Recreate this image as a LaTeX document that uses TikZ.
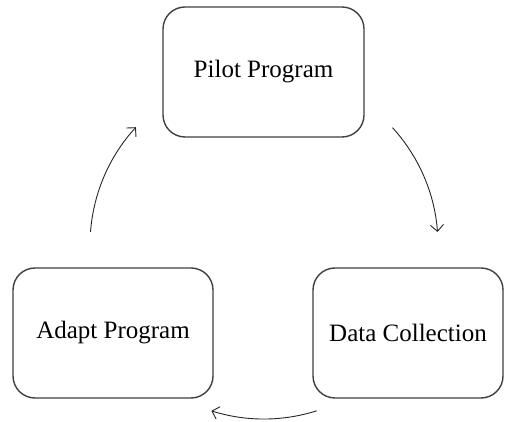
\documentclass[tikz,border=0pt]{standalone}
\usepackage{fontspec}
\setmainfont{Liberation Serif}
\usetikzlibrary{arrows.meta}

\begin{document}
\begin{tikzpicture}[x=0.5pt,y=0.5pt,
  stage/.style={draw=black!75, line width=0.7pt, rounded corners=11pt,
    fill=white, minimum height=65pt, inner sep=0pt,
    font=\fontsize{12.5pt}{15pt}\selectfont},
  flow/.style={draw=black!85, line width=0.45pt,
    -{Straight Barb[length=3.2pt,width=6.5pt]}}]
  % canvas
  \path[fill=white] (0,0) rectangle (506,421);
  \useasboundingbox (0,0) rectangle (506,421);

  % the three stages of the cycle
  \node[stage, minimum width=100.5pt] (pilot) at (263.5,349) {Pilot Program};
  \node[stage, minimum width=95pt]    (data)  at (408,88)    {Data Collection};
  \node[stage, minimum width=100pt]   (adapt) at (113,88)    {Adapt Program};

  % arcs on a common circle around the middle
  \coordinate (mid) at (264,176);
  \path (mid) ++(42.4:87pt)  coordinate (pd1);
  \path (mid) ++(-72.4:87pt) coordinate (da1);
  \path (mid) ++(175.7:87pt) coordinate (ap1);

  \draw[flow] (pd1) arc[start angle=42.4,  end angle=4.3,    radius=87pt];
  \draw[flow] (da1) arc[start angle=-72.4, end angle=-107.6, radius=87pt];
  \draw[flow] (ap1) arc[start angle=175.7, end angle=137.4,  radius=87pt];
\end{tikzpicture}
\end{document}
